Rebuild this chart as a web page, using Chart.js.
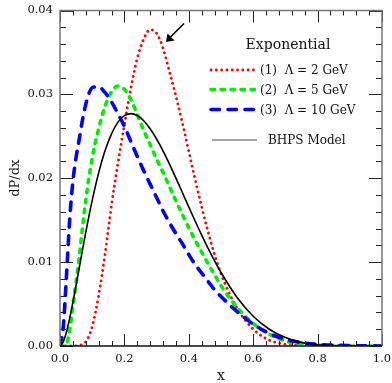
<!DOCTYPE html>
<html>
<head>
<meta charset="utf-8">
<script src="https://cdn.jsdelivr.net/npm/chart.js@4"></script>
<style>
  html, body { margin: 0; padding: 0; background: #fff; }
</style>
</head>
<body>
<canvas id="chart" width="392" height="383"></canvas>
<script>
// momentum fraction grid
const xs = [0, 0.01, 0.02, 0.03, 0.04, 0.05, 0.06, 0.07, 0.08, 0.09, 0.10,
  0.12, 0.14, 0.16, 0.18, 0.20, 0.22, 0.24, 0.26, 0.28, 0.30, 0.32, 0.34, 0.36, 0.38,
  0.40, 0.42, 0.44, 0.46, 0.48, 0.50, 0.55, 0.60, 0.65, 0.70, 0.75, 0.80, 0.85, 0.90, 0.95, 1.0];

const bhps = [0, 0.00049, 0.00167, 0.00330, 0.00520, 0.00726, 0.00937, 0.01148, 0.01354, 0.01551, 0.01736,
  0.02064, 0.02330, 0.02530, 0.02669, 0.02746, 0.02770, 0.02748, 0.02686, 0.02590, 0.02468, 0.02326, 0.02168, 0.02002, 0.01830,
  0.01657, 0.01487, 0.01321, 0.01163, 0.01014, 0.00876, 0.00579, 0.00355, 0.00200, 0.00100, 0.00043, 0.00015, 0.00004, 0.00001, 0, 0];

const lam2 = [0, 0, 0, 0, 0, 0.00002, 0.00008, 0.0002, 0.0005, 0.0012, 0.0023,
  0.0060, 0.0110, 0.0168, 0.0218, 0.0264, 0.0307, 0.0343, 0.0366, 0.0377, 0.0373, 0.0355, 0.0327, 0.0298, 0.0266,
  0.0232, 0.0198, 0.0166, 0.0136, 0.0109, 0.0086, 0.0045, 0.0020, 0.0007, 0.0002, 0.00005, 0.00001, 0, 0, 0, 0];

const lam5 = [0, 0, 0.0002, 0.0019, 0.0047, 0.0076, 0.0107, 0.0142, 0.0174, 0.0201, 0.0224,
  0.0259, 0.0286, 0.0303, 0.0310, 0.0306, 0.0294, 0.0276, 0.0257, 0.0240, 0.0223, 0.0207, 0.0190, 0.0173, 0.0157,
  0.0141, 0.0126, 0.0112, 0.0098, 0.0085, 0.0072, 0.0046, 0.0027, 0.0014, 0.0006, 0.0002, 0.0001, 0.00003, 0, 0, 0];

const lam10 = [0, 0.0022, 0.0083, 0.0150, 0.0196, 0.0225, 0.0247, 0.0270, 0.0288, 0.0301, 0.0308,
  0.0309, 0.0302, 0.0291, 0.0277, 0.0262, 0.0244, 0.0226, 0.0209, 0.0193, 0.0177, 0.0161, 0.0147, 0.0134, 0.0122,
  0.0109, 0.0097, 0.0087, 0.0077, 0.0067, 0.0059, 0.0041, 0.0026, 0.0015, 0.0008, 0.0004, 0.0002, 0.0001, 0.00005, 0.00002, 0];

const legendTitle = 'Exponential';
const legendLabels = ['(1)  \u039B = 2 GeV', '(2)  \u039B = 5 GeV', '(3)  \u039B = 10 GeV', 'BHPS Model'];

const SERIF = '"DejaVu Serif", "Liberation Serif", serif';

const styles = [
  { color: '#ff0000', width: 2.8, dash: [0.1, 5.2] },
  { color: '#00ee00', width: 3.6, dash: [3.5, 6.5] },
  { color: '#0000ff', width: 3.6, dash: [8.5, 8.5] },
  { color: '#888888', width: 1.6, dash: [] }
];

function pts(ys) {
  return xs.map((x, i) => ({ x: x, y: ys[i] }));
}

function series(ys, st, color) {
  return {
    data: pts(ys),
    borderColor: color || st.color,
    borderWidth: st.width,
    borderDash: st.dash,
    borderCapStyle: st.dash.length ? 'round' : 'butt',
    pointRadius: 0,
    cubicInterpolationMode: 'monotone',
    fill: false
  };
}

// inward ticks on all four sides, frame, key and arrow
const decor = {
  id: 'decor',
  afterDatasetsDraw(chart) {
    const ctx = chart.ctx;
    const a = chart.chartArea;
    const sx = chart.scales.x, sy = chart.scales.y;
    ctx.save();

    ctx.strokeStyle = '#222';
    ctx.lineWidth = 1;
    for (let k = 0; k <= 25; k++) {
      const v = k * 0.04;
      const px = Math.round(sx.getPixelForValue(v)) + 0.5;
      const len = k % 5 === 0 ? 12 : 5;
      ctx.beginPath();
      ctx.moveTo(px, a.bottom); ctx.lineTo(px, a.bottom - len);
      ctx.moveTo(px, a.top); ctx.lineTo(px, a.top + len);
      ctx.stroke();
    }
    for (let k = 0; k <= 20; k++) {
      const v = k * 0.002;
      const py = Math.round(sy.getPixelForValue(v)) + 0.5;
      const len = k % 5 === 0 ? 13 : 6;
      ctx.beginPath();
      ctx.moveTo(a.left, py); ctx.lineTo(a.left + len, py);
      ctx.moveTo(a.right, py); ctx.lineTo(a.right - len, py);
      ctx.stroke();
    }

    // frame
    ctx.lineWidth = 1.5;
    ctx.strokeStyle = '#777';
    ctx.beginPath();
    ctx.moveTo(a.left, a.bottom); ctx.lineTo(a.left, a.top);
    ctx.lineTo(a.right, a.top); ctx.lineTo(a.right, a.bottom);
    ctx.stroke();
    ctx.strokeStyle = '#111';
    ctx.beginPath();
    ctx.moveTo(a.left, a.bottom); ctx.lineTo(a.right, a.bottom);
    ctx.stroke();

    // key
    ctx.fillStyle = '#111';
    ctx.font = '14px ' + SERIF;
    ctx.textAlign = 'center';
    ctx.textBaseline = 'middle';
    ctx.fillText(legendTitle, 288, 45);

    const rows = [70, 89.5, 109.5, 140];
    ctx.font = '12px ' + SERIF;
    ctx.textAlign = 'left';
    legendLabels.forEach((lab, i) => {
      const st = styles[i];
      const y = rows[i];
      ctx.strokeStyle = st.color;
      ctx.lineWidth = st.width;
      ctx.setLineDash(st.dash);
      ctx.lineCap = st.dash.length ? 'round' : 'butt';
      ctx.beginPath();
      ctx.moveTo(i === 3 ? 212 : 211, y);
      ctx.lineTo(257, y);
      ctx.stroke();
      ctx.setLineDash([]);
      ctx.fillText(lab, i === 3 ? 268 : 260, y + 1);
    });

    // arrow to the Λ = 2 GeV peak
    ctx.strokeStyle = '#000';
    ctx.fillStyle = '#000';
    ctx.lineWidth = 1.6;
    ctx.lineCap = 'butt';
    ctx.beginPath();
    ctx.moveTo(184, 23.5); ctx.lineTo(170, 37.5);
    ctx.stroke();
    ctx.beginPath();
    ctx.moveTo(166, 42);
    ctx.lineTo(167.5, 33.5);
    ctx.lineTo(174.5, 40.5);
    ctx.closePath();
    ctx.fill();

    ctx.restore();
  }
};

const ctx = document.getElementById('chart').getContext('2d');
const chart = new Chart(ctx, {
  type: 'line',
  data: {
    datasets: [
      series(bhps, styles[3], '#000000'),
      series(lam10, styles[2]),
      series(lam5, styles[1]),
      series(lam2, styles[0])
    ]
  },
  options: {
    responsive: false,
    animation: false,
    devicePixelRatio: 1,
    layout: { padding: { top: 10.5, right: 10, left: 0, bottom: 0 } },
    plugins: { legend: { display: false }, tooltip: { enabled: false } },
    scales: {
      x: {
        type: 'linear',
        min: 0, max: 1,
        grid: { display: false, drawTicks: false },
        border: { display: false },
        ticks: {
          stepSize: 0.2,
          padding: 6,
          color: '#111',
          font: { family: SERIF, size: 11.5 },
          callback: v => v.toFixed(1)
        },
        title: { display: true, text: 'x', color: '#111', font: { family: SERIF, size: 14 }, padding: { top: 0, bottom: -2 } },
        afterFit: s => { s.height = 37; s.paddingLeft = 0; s.paddingRight = 0; }
      },
      y: {
        type: 'linear',
        min: 0, max: 0.04,
        grid: { display: false, drawTicks: false },
        border: { display: false },
        ticks: {
          stepSize: 0.01,
          padding: 7,
          color: '#111',
          font: { family: SERIF, size: 11.5 },
          callback: v => v.toFixed(2)
        },
        title: { display: true, text: 'dP/dx', color: '#111', font: { family: SERIF, size: 13 }, padding: { top: 8, bottom: 0 } },
        afterFit: s => { s.width = 60; s.paddingTop = 0; s.paddingBottom = 0; }
      }
    }
  },
  plugins: [decor]
});
</script>
</body>
</html>
